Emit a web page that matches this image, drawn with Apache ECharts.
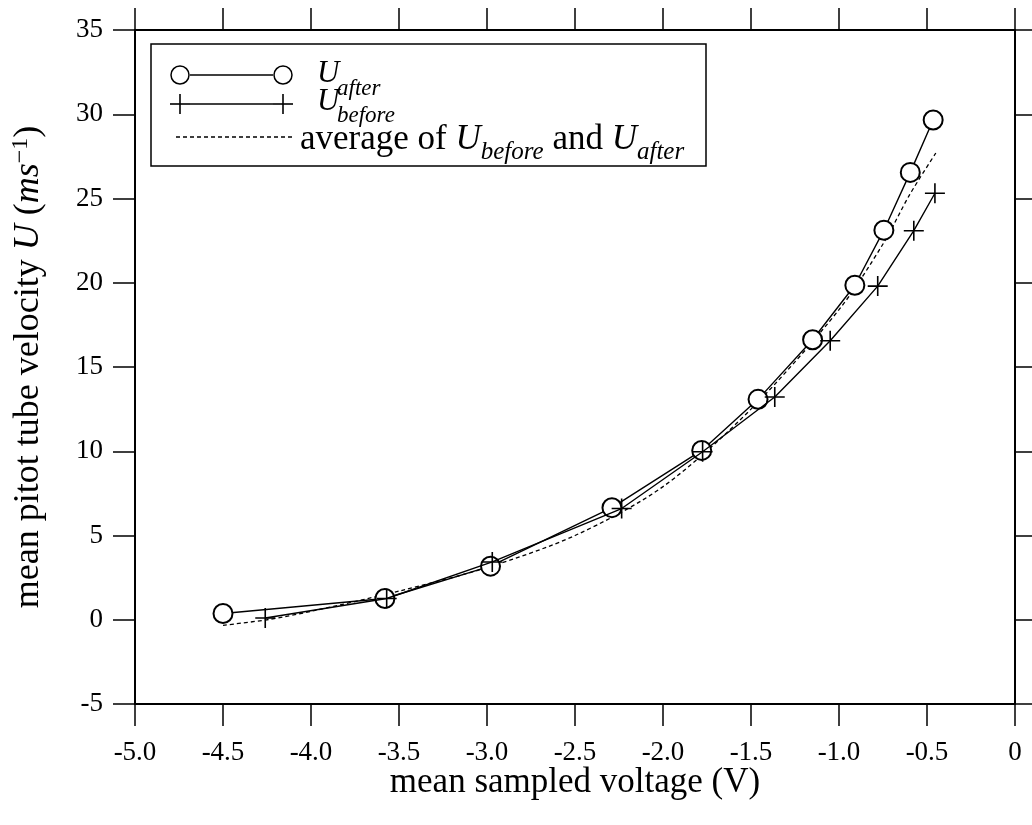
<!DOCTYPE html>
<html>
<head>
<meta charset="utf-8">
<script src="https://cdn.jsdelivr.net/npm/echarts@6/dist/echarts.min.js"></script>
<style>
  html, body { margin: 0; padding: 0; background: #fff; }
  #chart { width: 1032px; height: 825px; }
</style>
</head>
<body>
<div id="chart"></div>
<script>
// U_after (circles)
var afterVolt = [-4.50, -3.58, -2.98, -2.29, -1.78, -1.46, -1.15, -0.91, -0.745, -0.595, -0.465];
var afterVel  = [0.37, 1.26, 3.18, 6.65, 10.05, 13.08, 16.62, 19.85, 23.12, 26.55, 29.66];

// U_before (plus)
var beforeVolt = [-4.26, -3.57, -2.97, -2.235, -1.775, -1.365, -1.05, -0.78, -0.575, -0.455];
var beforeVel  = [0.1, 1.26, 3.43, 6.6, 9.97, 13.22, 16.56, 19.8, 23.09, 25.31];

// average curve (dashed)
var avgVolt = [-4.5, -4.25, -4.0, -3.5, -3.0, -2.5, -2.0, -1.5, -1.0, -0.75, -0.6, -0.45];
var avgVel  = [-0.33, 0.0, 0.5, 1.7, 3.1, 5.0, 7.9, 12.5, 18.4, 22.3, 25.2, 27.7];

function pairs(xs, ys) {
    var out = [];
    for (var i = 0; i < xs.length; i++) out.push([xs[i], ys[i]]);
    return out;
}

// legend plus sign made of two short lines
function plusMark(cx, cy) {
    return [
        {type: 'line', shape: {x1: cx - 10, y1: cy, x2: cx + 10, y2: cy}, style: {stroke: '#000', lineWidth: 1.6}, z: 11},
        {type: 'line', shape: {x1: cx, y1: cy - 10, x2: cx, y2: cy + 10}, style: {stroke: '#000', lineWidth: 1.6}, z: 11}
    ];
}

var serif = 'Liberation Serif';
var myChart = echarts.init(document.getElementById('chart'), null, {renderer: 'canvas'});

var axisLine = {show: true, onZero: false, lineStyle: {color: '#000', width: 2}};
var tickOut = {show: true, inside: false, length: 22, lineStyle: {color: '#000', width: 1.5}};

var legendParts = [
    // legend box
    {type: 'rect', shape: {x: 151, y: 44, width: 555, height: 122},
     style: {fill: '#fff', stroke: '#000', lineWidth: 1.5}, z: 10},
    // row 1: U after
    {type: 'line', shape: {x1: 190, y1: 75, x2: 273, y2: 75}, style: {stroke: '#000', lineWidth: 1.4}, z: 11},
    {type: 'circle', shape: {cx: 180, cy: 75, r: 9}, style: {fill: '#fff', stroke: '#000', lineWidth: 1.5}, z: 11},
    {type: 'circle', shape: {cx: 283, cy: 75, r: 9}, style: {fill: '#fff', stroke: '#000', lineWidth: 1.5}, z: 11},
    {type: 'text', x: 317, y: 74, z: 11,
     style: {text: 'U', font: 'italic 31px "Liberation Serif"', fill: '#000', verticalAlign: 'middle'}},
    {type: 'text', x: 337, y: 89, z: 11,
     style: {text: 'after', font: 'italic 23px "Liberation Serif"', fill: '#000', verticalAlign: 'middle'}},
    // row 2: U before
    {type: 'line', shape: {x1: 190, y1: 104, x2: 273, y2: 104}, style: {stroke: '#000', lineWidth: 1.4}, z: 11},
    {type: 'text', x: 317, y: 102, z: 11,
     style: {text: 'U', font: 'italic 31px "Liberation Serif"', fill: '#000', verticalAlign: 'middle'}},
    {type: 'text', x: 337, y: 116, z: 11,
     style: {text: 'before', font: 'italic 23px "Liberation Serif"', fill: '#000', verticalAlign: 'middle'}},
    // row 3: average
    {type: 'line', shape: {x1: 176, y1: 137, x2: 292, y2: 137},
     style: {stroke: '#000', lineWidth: 1.3, lineDash: [4, 3]}, z: 11},
    {type: 'text', x: 300, y: 117, z: 11,
     style: {
         text: '{n|average of }{i|U}{s|before}{n| and }{i|U}{s|after}',
         fill: '#000',
         rich: {
             n: {fontFamily: serif, fontSize: 35, fill: '#000', lineHeight: 40, verticalAlign: 'bottom'},
             i: {fontFamily: serif, fontSize: 35, fontStyle: 'italic', fill: '#000', lineHeight: 40, verticalAlign: 'bottom'},
             s: {fontFamily: serif, fontSize: 25, fontStyle: 'italic', fill: '#000', lineHeight: 40, verticalAlign: 'bottom', padding: [0, 0, -8, 0]}
         }
     }}
].concat(plusMark(180, 104), plusMark(283, 104));

myChart.setOption({
    animation: false,
    backgroundColor: '#fff',
    grid: {left: 135, right: 17, top: 30, bottom: 121},
    xAxis: [{
        type: 'value', position: 'bottom', min: -5, max: 0, interval: 0.5,
        axisLine: axisLine, axisTick: tickOut, splitLine: {show: false},
        axisLabel: {
            color: '#000', fontFamily: serif, fontSize: 27, margin: 35,
            formatter: function (v) { return v === 0 ? '0' : v.toFixed(1); }
        },
        name: 'mean sampled voltage (V)', nameLocation: 'middle', nameGap: 61,
        nameMoveOverlap: false,
        nameTextStyle: {color: '#000', fontFamily: serif, fontSize: 35}
    }, {
        type: 'value', position: 'top', min: -5, max: 0, interval: 0.5,
        axisLine: axisLine, axisTick: tickOut, axisLabel: {show: false}, splitLine: {show: false}
    }],
    yAxis: [{
        type: 'value', position: 'left', min: -5, max: 35, interval: 5,
        axisLine: axisLine, axisTick: tickOut, splitLine: {show: false},
        axisLabel: {color: '#000', fontFamily: serif, fontSize: 27, margin: 32},
        name: '{n|mean pitot tube velocity }{i|U}{n| (}{i|ms}{sup|−1}{n|)}',
        nameLocation: 'middle', nameGap: 86, nameRotate: 90,
        nameMoveOverlap: false,
        nameTextStyle: {
            color: '#000', fontFamily: serif, fontSize: 36,
            rich: {
                n: {fontFamily: serif, fontSize: 36, color: '#000', lineHeight: 40},
                i: {fontFamily: serif, fontSize: 36, fontStyle: 'italic', color: '#000', lineHeight: 40},
                sup: {fontFamily: serif, fontSize: 24, color: '#000', verticalAlign: 'top', lineHeight: 40}
            }
        }
    }, {
        type: 'value', position: 'right', min: -5, max: 35, interval: 5,
        axisLine: axisLine, axisTick: tickOut, axisLabel: {show: false}, splitLine: {show: false}
    }],
    series: [{
        name: 'average',
        type: 'line',
        data: pairs(avgVolt, avgVel),
        smooth: 0.3,
        showSymbol: false,
        symbol: 'none',
        z: 1,
        lineStyle: {color: '#000', width: 1.3, type: [4, 3]}
    }, {
        name: 'U after',
        type: 'line',
        data: pairs(afterVolt, afterVel),
        symbol: 'emptyCircle',
        symbolSize: 19,
        z: 2,
        lineStyle: {color: '#000', width: 1.4},
        itemStyle: {color: '#000', borderColor: '#000', borderWidth: 1.5}
    }, {
        name: 'U before',
        type: 'line',
        data: pairs(beforeVolt, beforeVel),
        symbol: 'path://M0,10 L20,10 M10,0 L10,20',
        symbolSize: 20,
        z: 3,
        lineStyle: {color: '#000', width: 1.4},
        itemStyle: {color: '#000', borderColor: '#000', borderWidth: 1.6}
    }],
    graphic: legendParts
});
</script>
</body>
</html>
